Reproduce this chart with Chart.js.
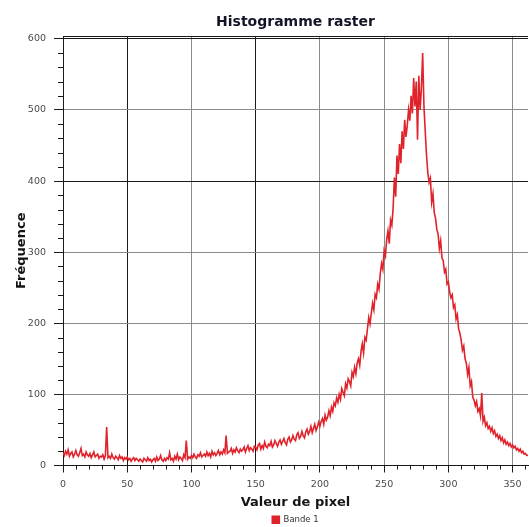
<!DOCTYPE html>
<html lang="fr">
<head>
<meta charset="utf-8">
<title>Histogramme raster</title>
<script src="https://cdn.jsdelivr.net/npm/chart.js@4/dist/chart.umd.min.js"></script>
<style>
  html, body { margin: 0; padding: 0; background: #ffffff; }
  #wrap { width: 529px; height: 527px; }
</style>
</head>
<body>
<div id="wrap"><canvas id="histo" width="529" height="527"></canvas></div>
<script>
// Texts
const chartTitle = 'Histogramme raster';
const xAxisTitle = 'Valeur de pixel';
const yAxisTitle = 'Fréquence';
const seriesName = 'Bande 1';

// Pixel value of the first bin (one bin per pixel value)
const firstPixelValue = 0;

// Frequency of each pixel value, band 1
const frequencies = [
  18, 14, 20, 16, 22, 13, 17, 19, 12, 16,
  21, 15, 13, 18, 24, 14, 16, 12, 19, 15,
  13, 17, 11, 15, 19, 12, 14, 16, 10, 13,
  12, 15, 9, 14, 54, 11, 13, 10, 16, 11,
  9, 13, 11, 8, 14, 10, 12, 7, 11, 9,
  12, 8, 10, 6, 9, 11, 7, 10, 8, 6,
  9, 7, 5, 10, 8, 6, 11, 7, 9, 5,
  8, 10, 6, 12, 7, 9, 14, 8, 6, 10,
  7, 11, 9, 18, 8, 10, 6, 13, 9, 16,
  8, 12, 10, 7, 15, 11, 35, 9, 12, 10,
  14, 11, 16, 12, 10, 15, 13, 18, 12, 14,
  16, 13, 19, 14, 17, 12, 20, 15, 18, 14,
  17, 21, 15, 19, 16, 22, 18, 42, 17, 19,
  20, 24, 17, 22, 19, 25, 21, 18, 23, 20,
  22, 26, 19, 24, 28, 21, 25, 23, 20, 27,
  26, 22, 29, 31, 23, 28, 24, 33, 27, 25,
  30, 28, 34, 26, 29, 35, 31, 27, 33, 36,
  30, 34, 38, 32, 29, 37, 40, 33, 36, 42,
  37, 35, 43, 46, 38, 41, 48, 42, 39, 47,
  51, 44, 48, 55, 46, 52, 58, 49, 54, 61,
  55, 62, 66, 58, 71, 64, 68, 77, 70, 82,
  76, 88, 84, 95, 89, 100, 93, 108, 103, 98,
  115, 109, 122, 118, 112, 131, 125, 138, 129, 144,
  150, 141, 160, 171, 158, 180, 176, 192, 208, 199,
  214, 228, 219, 241, 236, 255, 248, 270, 284, 276,
  302, 295, 318, 330, 312, 345, 338, 362, 405, 378,
  436, 410, 452, 425, 470, 445, 486, 462, 478, 500,
  485, 520, 495, 545, 505, 540, 458, 548, 500, 530,
  580, 505, 470, 436, 412, 398, 404, 370, 382, 356,
  348, 332, 326, 305, 316, 292, 288, 272, 276, 255,
  258, 244, 236, 240, 222, 226, 206, 212, 192, 186,
  176, 162, 168, 150, 144, 128, 138, 112, 118, 96,
  92, 84, 90, 76, 80, 70, 102, 62, 68, 56,
  60, 52, 55, 48, 53, 45, 49, 41, 44, 38,
  42, 35, 39, 32, 36, 30, 33, 28, 31, 26,
  29, 25, 27, 22, 24, 20, 23, 18, 20, 16,
  17, 14, 15
];

// Axis ticks
const xTickValues = [0, 50, 100, 150, 200, 250, 300, 350];
const yTickValues = [0, 100, 200, 300, 400, 500, 600];
const xDarkGrid = [50, 150];
const yDarkGrid = [400, 600];
const xMinorStep = 10;
const yMinorStep = 20;

const FONT = '"DejaVu Sans", Verdana, sans-serif';
const DARK = '#1a1a1a';
const GREY = '#8c8c8c';

// Short minor tick marks on both axes plus the top frame line
const axisDecor = {
  id: 'axisDecor',
  afterDraw(chart) {
    const { ctx, chartArea: a, scales: { x, y } } = chart;
    ctx.save();
    ctx.strokeStyle = DARK;
    ctx.lineWidth = 1;
    ctx.beginPath();
    for (let v = xMinorStep; v <= x.max; v += xMinorStep) {
      if (xTickValues.includes(v)) continue;
      const px = Math.round(x.getPixelForValue(v)) + 0.5;
      ctx.moveTo(px, a.bottom);
      ctx.lineTo(px, a.bottom + 4);
    }
    for (let v = yMinorStep; v <= y.max; v += yMinorStep) {
      if (yTickValues.includes(v)) continue;
      const py = Math.round(y.getPixelForValue(v)) + 0.5;
      ctx.moveTo(a.left - 5, py);
      ctx.lineTo(a.left, py);
    }
    ctx.moveTo(a.left, Math.round(a.top) + 0.5);
    ctx.lineTo(a.right, Math.round(a.top) + 0.5);
    ctx.stroke();
    ctx.restore();
  }
};

new Chart(document.getElementById('histo'), {
  type: 'line',
  data: {
    datasets: [{
      label: seriesName,
      data: frequencies.map((f, i) => ({ x: firstPixelValue + i, y: f })),
      borderColor: '#e0222b',
      backgroundColor: '#e0222b',
      borderWidth: 1.6,
      pointRadius: 0,
      tension: 0,
      fill: false
    }]
  },
  options: {
    responsive: false,
    animation: false,
    devicePixelRatio: 1,
    layout: { padding: { top: 0, right: 1, bottom: -7, left: 0 } },
    plugins: {
      title: {
        display: true,
        text: chartTitle,
        fullSize: false,
        color: '#141428',
        font: { family: FONT, size: 14, weight: 'bold' },
        padding: { top: 13.6, bottom: 5.6 }
      },
      legend: {
        display: true,
        position: 'bottom',
        fullSize: false,
        labels: {
          boxWidth: 7,
          boxHeight: 7,
          padding: 4,
          color: '#333333',
          font: { family: FONT, size: 8.5 }
        }
      },
      tooltip: { enabled: false }
    },
    scales: {
      x: {
        type: 'linear',
        min: 0,
        max: 362,
        afterBuildTicks: s => { s.ticks = xTickValues.map(v => ({ value: v })); },
        afterFit: s => { s.height = 46; },
        border: { color: DARK, width: 1 },
        grid: {
          color: c => (c.tick && xDarkGrid.includes(c.tick.value)) ? DARK : GREY,
          lineWidth: 1,
          tickLength: 7,
          tickColor: DARK
        },
        ticks: {
          autoSkip: false,
          maxRotation: 0,
          padding: 6,
          color: '#4a4a4a',
          font: { family: FONT, size: 9.5 }
        },
        title: {
          display: true,
          text: xAxisTitle,
          color: '#141414',
          font: { family: FONT, size: 13, weight: 'bold' },
          padding: { top: 0, bottom: 1 }
        }
      },
      y: {
        type: 'linear',
        min: 0,
        max: 604,
        afterBuildTicks: s => { s.ticks = yTickValues.map(v => ({ value: v })); },
        afterFit: s => { s.width = 63; },
        border: { color: DARK, width: 1 },
        grid: {
          color: c => (c.tick && yDarkGrid.includes(c.tick.value)) ? DARK : GREY,
          lineWidth: 1,
          tickLength: 9,
          tickColor: DARK
        },
        ticks: {
          padding: 8,
          color: '#4a4a4a',
          font: { family: FONT, size: 9.5 }
        },
        title: {
          display: true,
          text: yAxisTitle,
          color: '#141414',
          font: { family: FONT, size: 13, weight: 'bold' },
          padding: { top: 13.6, bottom: 0 }
        }
      }
    }
  },
  plugins: [axisDecor]
});
</script>
</body>
</html>
